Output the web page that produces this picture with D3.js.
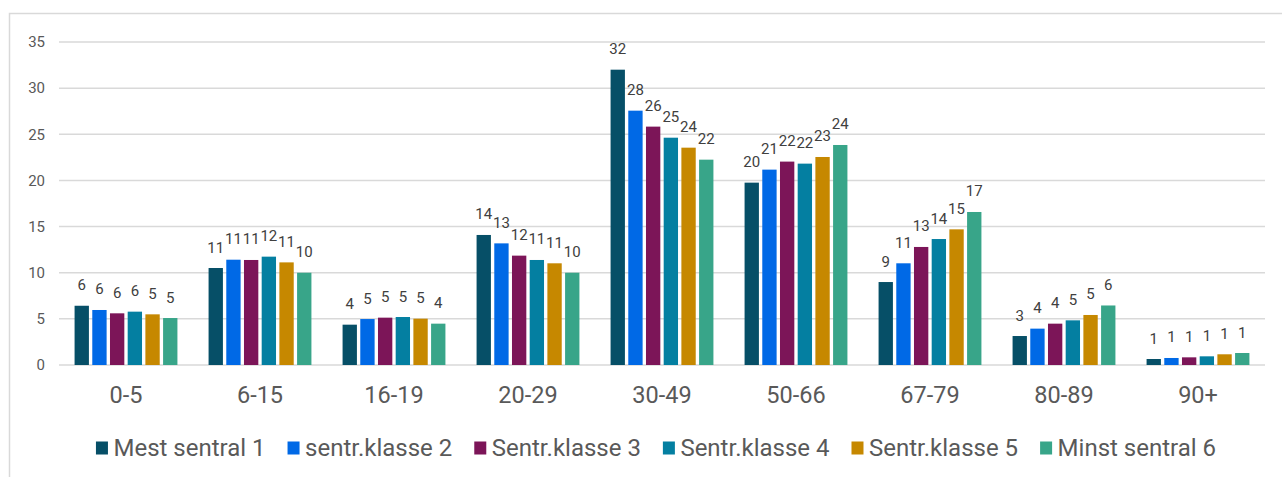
<!DOCTYPE html>
<html>
<head>
<meta charset="utf-8">
<script src="https://cdn.jsdelivr.net/npm/d3@7"></script>
<style>
  html, body { margin: 0; padding: 0; background: #fff; }
  svg { display: block; font-family: Roboto, "Noto Sans", sans-serif; }
</style>
</head>
<body>
<div id="chart"></div>
<script>
// age groups on the x axis
const categories = ['0-5', '6-15', '16-19', '20-29', '30-49', '50-66', '67-79', '80-89', '90+'];

const seriesNames = ['Mest sentral 1', 'sentr.klasse 2', 'Sentr.klasse 3', 'Sentr.klasse 4', 'Sentr.klasse 5', 'Minst sentral 6'];
const seriesColors = ['#064f67', '#0069e6', '#7c1558', '#047fa1', '#c68800', '#38a589'];

// values, one array per series
const mestSentral1 = [6.42, 10.51, 4.37, 14.09, 32.0, 19.76, 8.99, 3.14, 0.65];
const sentrKlasse2 = [5.96, 11.41, 4.98, 13.18, 27.56, 21.17, 11.02, 3.94, 0.76];
const sentrKlasse3 = [5.6, 11.38, 5.13, 11.85, 25.83, 22.04, 12.79, 4.48, 0.83];
const sentrKlasse4 = [5.78, 11.74, 5.2, 11.38, 24.63, 21.82, 13.65, 4.84, 0.94];
const sentrKlasse5 = [5.49, 11.12, 5.02, 11.02, 23.55, 22.54, 14.7, 5.42, 1.16];
const minstSentral6 = [5.09, 10.0, 4.48, 10.0, 22.25, 23.84, 16.58, 6.45, 1.3];

const yTicks = [0, 5, 10, 15, 20, 25, 30, 35];

const seriesValues = [mestSentral1, sentrKlasse2, sentrKlasse3, sentrKlasse4, sentrKlasse5, minstSentral6];

const width = 1282;
const height = 477;
const margin = { top: 42, right: 17, bottom: 112, left: 59 };

const svg = d3.select('#chart')
  .append('svg')
  .attr('width', width)
  .attr('height', height);

// card border (left and top edges visible)
svg.append('path')
  .attr('d', `M9.5,${height} V13.5 H${width}`)
  .attr('fill', 'none')
  .attr('stroke', '#d9d9d9')
  .attr('stroke-width', 1.5);

const x0 = d3.scaleBand()
  .domain(categories)
  .range([margin.left, width - margin.right]);

const x1 = d3.scaleBand()
  .domain(seriesNames)
  .range([0, x0.bandwidth()])
  .paddingInner(0.19)
  .paddingOuter(0.88);

const y = d3.scaleLinear()
  .domain([0, 35])
  .range([height - margin.bottom, margin.top]);

// gridlines
svg.append('g')
  .attr('class', 'grid')
  .selectAll('line')
  .data(yTicks)
  .join('line')
  .attr('x1', margin.left)
  .attr('x2', width - margin.right)
  .attr('y1', d => y(d))
  .attr('y2', d => y(d))
  .attr('stroke', '#d9d9d9')
  .attr('stroke-width', 1.5);

// y axis labels
const yAxis = svg.append('g')
  .attr('transform', `translate(${margin.left - 14},0)`)
  .call(d3.axisLeft(y).tickValues(yTicks).tickSize(0).tickPadding(0));
yAxis.select('.domain').remove();
yAxis.selectAll('text')
  .attr('font-family', 'Roboto, sans-serif')
  .attr('font-size', 15)
  .attr('fill', '#595959');

// x axis labels
const xAxis = svg.append('g')
  .attr('transform', `translate(0,${y(0)})`)
  .call(d3.axisBottom(x0).tickSize(0).tickPadding(21));
xAxis.select('.domain').remove();
xAxis.selectAll('text')
  .attr('font-family', 'Roboto, sans-serif')
  .attr('font-size', 23.5)
  .attr('fill', '#595959');

const rows = [];
categories.forEach((c, i) => {
  seriesNames.forEach((s, j) => {
    rows.push({ category: c, series: s, value: seriesValues[j][i], color: seriesColors[j] });
  });
});

const groups = svg.append('g').attr('class', 'bars');

groups.selectAll('rect')
  .data(rows)
  .join('rect')
  .attr('x', d => x0(d.category) + x1(d.series))
  .attr('y', d => y(d.value))
  .attr('width', x1.bandwidth())
  .attr('height', d => y(0) - y(d.value))
  .attr('fill', d => d.color);

svg.append('g')
  .attr('class', 'labels')
  .selectAll('text')
  .data(rows)
  .join('text')
  .attr('x', d => x0(d.category) + x1(d.series) + x1.bandwidth() / 2)
  .attr('y', d => y(d.value) - 15.5)
  .attr('text-anchor', 'middle')
  .attr('font-size', 15)
  .attr('fill', '#404040')
  .text(d => Math.round(d.value));

// legend
const legendGap = 22;
const legend = svg.append('g').attr('class', 'legend');
const items = legend.selectAll('g')
  .data(seriesNames)
  .join('g');
items.append('rect')
  .attr('width', 12)
  .attr('height', 13)
  .attr('y', -14.5)
  .attr('fill', (d, i) => seriesColors[i]);
items.append('text')
  .attr('x', 17.5)
  .attr('y', 0)
  .attr('font-size', 24)
  .attr('fill', '#595959')
  .text(d => d);

let offset = 0;
items.each(function () {
  const g = d3.select(this);
  g.attr('transform', `translate(${offset},0)`);
  offset += 17.5 + g.select('text').node().getComputedTextLength() + legendGap;
});
const legendWidth = offset - legendGap;
legend.attr('transform', `translate(${656 - legendWidth / 2},456)`);
</script>
</body>
</html>
